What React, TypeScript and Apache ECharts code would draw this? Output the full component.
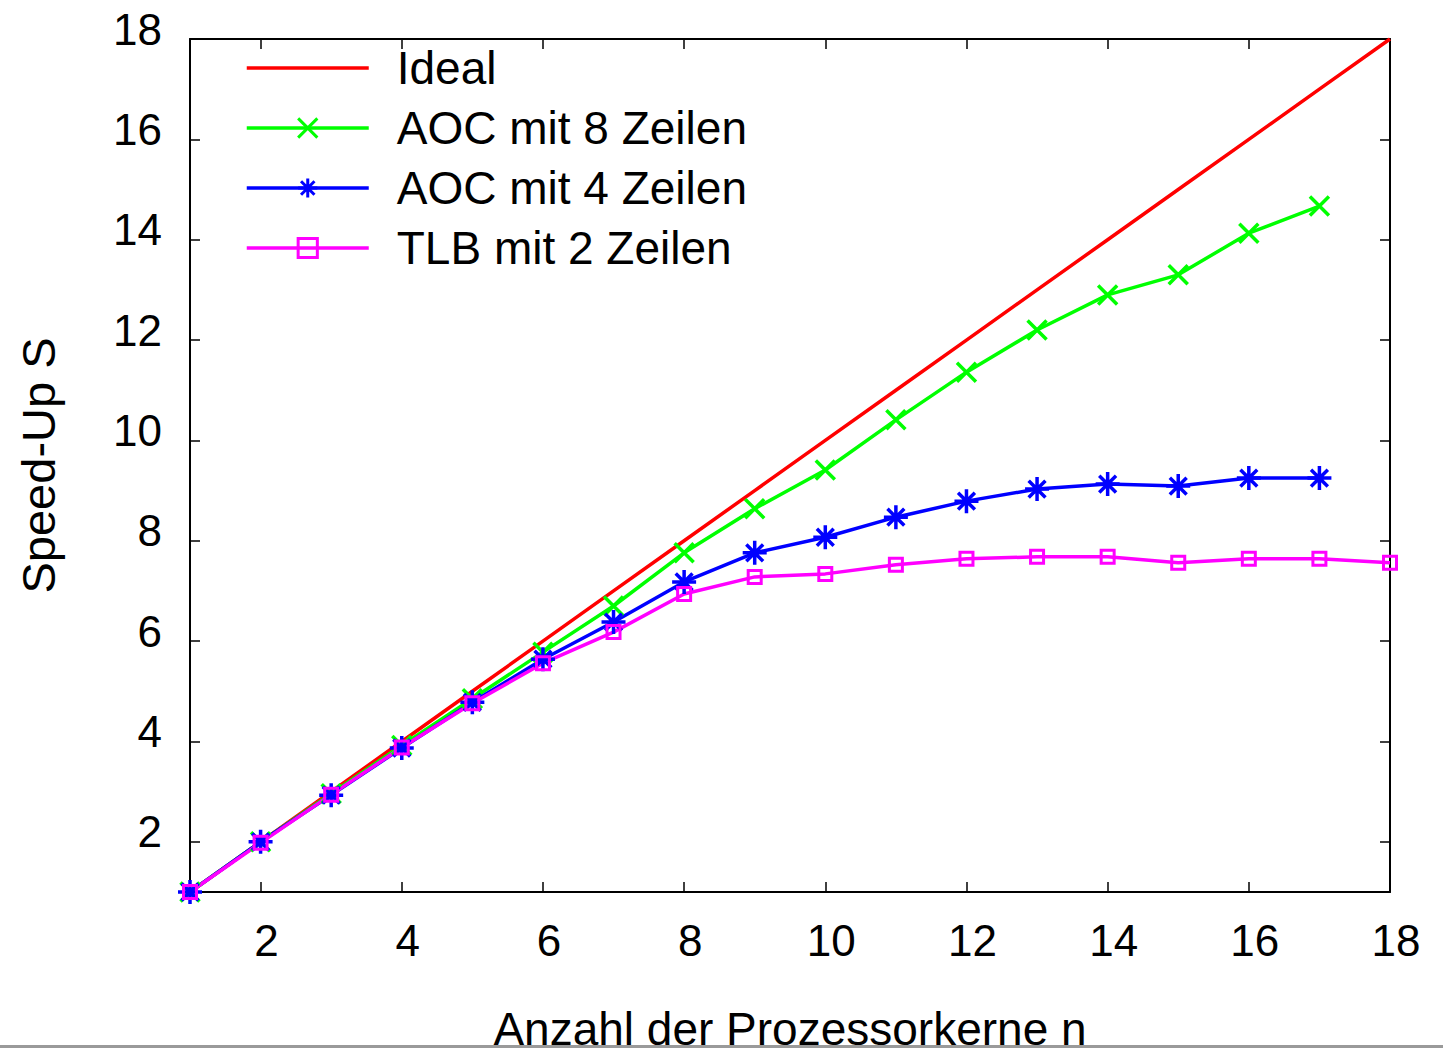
import React, { useEffect, useRef } from "react";
import * as echarts from "echarts";

const cores = [1, 2, 3, 4, 5, 6, 7, 8, 9, 10, 11, 12, 13, 14, 15, 16, 17, 18];
const ideal = [1, 2, 3, 4, 5, 6, 7, 8, 9, 10, 11, 12, 13, 14, 15, 16, 17, 18];
const aoc8 = [1, 2, 2.96, 3.92, 4.85, 5.78, 6.7, 7.76, 8.64, 9.41, 10.41, 11.36, 12.2, 12.9, 13.3, 14.13, 14.67];
const aoc4 = [1, 2, 2.93, 3.87, 4.78, 5.64, 6.38, 7.18, 7.76, 8.07, 8.47, 8.79, 9.03, 9.13, 9.09, 9.25, 9.25];
const tlb2 = [1, 1.98, 2.94, 3.88, 4.76, 5.56, 6.18, 6.94, 7.28, 7.34, 7.52, 7.64, 7.68, 7.68, 7.56, 7.64, 7.64, 7.56];
const xTickLabels = [2, 4, 6, 8, 10, 12, 14, 16, 18];
const yTickLabels = [2, 4, 6, 8, 10, 12, 14, 16, 18];
const xTicks = [2, 4, 6, 8, 10, 12, 14, 16];
const yTicks = [2, 4, 6, 8, 10, 12, 14, 16];
const seriesNames = ["Ideal", "AOC mit 8 Zeilen", "AOC mit 4 Zeilen", "TLB mit 2 Zeilen"];
const seriesColors = ["#ff0000", "#00ff00", "#0000ff", "#ff00ff"];

const pairs = (vals: number[]) => vals.map((v, i) => [cores[i], v]);

const FONT = "'Liberation Sans', Arial, Helvetica, sans-serif";
const LW = 3.5;

export default function App() {
  const ref = useRef<HTMLDivElement>(null);
  useEffect(() => {
    if (!ref.current) return;
    const chart = echarts.init(ref.current, null, { renderer: "svg" });
    const axisLine = { show: true, onZero: false, lineStyle: { color: "#000", width: 2 } };
    const tickStyle = { color: "#000", width: 1.5 };
    chart.setOption({
      animation: false,
      backgroundColor: "#fff",
      textStyle: { fontFamily: FONT },
      grid: { left: 190, top: 39, right: 53, bottom: 156, containLabel: false, outerBoundsMode: "none" },
      legend: {
        orient: "vertical",
        left: 240,
        top: 40,
        itemWidth: 122,
        itemHeight: 24,
        itemGap: 14,
        data: seriesNames.map((n, i) => ({
          name: n,
          lineStyle: { color: seriesColors[i], width: LW },
          itemStyle: i === 0 ? { opacity: 0 } : { color: "transparent", borderColor: seriesColors[i], borderWidth: 3 },
        })),
        textStyle: { fontSize: 46, color: "#000", fontFamily: FONT, padding: [0, 0, 0, 23] },
      },
      xAxis: [
        {
          type: "value",
          min: 1,
          max: 18,
          position: "bottom",
          axisLine,
          splitLine: { show: false },
          axisTick: { show: true, inside: true, length: 10, lineStyle: tickStyle, customValues: xTicks },
          axisLabel: {
            show: true,
            customValues: xTickLabels,
            fontSize: 44,
            color: "#000",
            fontFamily: FONT,
            margin: 26,
            padding: [0, 0, 0, 12],
          },
          name: "Anzahl der Prozessorkerne n",
          nameLocation: "middle",
          nameGap: 114,
          nameTextStyle: { fontSize: 46, color: "#000", fontFamily: FONT },
        },
        {
          type: "value",
          min: 1,
          max: 18,
          position: "top",
          axisLine,
          splitLine: { show: false },
          axisTick: { show: true, inside: true, length: 10, lineStyle: tickStyle, customValues: xTicks },
          axisLabel: { show: false },
        },
      ],
      yAxis: [
        {
          type: "value",
          min: 1,
          max: 18,
          position: "left",
          axisLine,
          splitLine: { show: false },
          axisTick: { show: true, inside: true, length: 10, lineStyle: tickStyle, customValues: yTicks },
          axisLabel: {
            show: true,
            customValues: yTickLabels,
            fontSize: 44,
            color: "#000",
            fontFamily: FONT,
            margin: 28,
            verticalAlign: "bottom",
            lineHeight: 20,
          },
          name: "Speed-Up S",
          nameLocation: "middle",
          nameGap: 128,
          nameTextStyle: { fontSize: 47, color: "#000", fontFamily: FONT },
        },
        {
          type: "value",
          min: 1,
          max: 18,
          position: "right",
          axisLine,
          splitLine: { show: false },
          axisTick: { show: true, inside: true, length: 10, lineStyle: tickStyle, customValues: yTicks },
          axisLabel: { show: false },
        },
      ],
      series: [
        {
          name: seriesNames[0],
          type: "line",
          data: pairs(ideal),
          symbol: "none",
          lineStyle: { color: seriesColors[0], width: LW },
          itemStyle: { color: seriesColors[0] },
        },
        {
          name: seriesNames[1],
          type: "line",
          data: pairs(aoc8),
          symbol: "path://M0,0L10,10M10,0L0,10",
          symbolSize: 19,
          lineStyle: { color: seriesColors[1], width: LW },
          itemStyle: { color: "transparent", borderColor: seriesColors[1], borderWidth: 3.5 },
        },
        {
          name: seriesNames[2],
          type: "line",
          data: pairs(aoc4),
          symbol: "path://M5,0L5,10M0,5L10,5M1.5,1.5L8.5,8.5M8.5,1.5L1.5,8.5",
          symbolSize: 24,
          lineStyle: { color: seriesColors[2], width: LW },
          itemStyle: { color: "transparent", borderColor: seriesColors[2], borderWidth: 3.5 },
        },
        {
          name: seriesNames[3],
          type: "line",
          data: pairs(tlb2),
          symbol: "path://M0,0L10,0L10,10L0,10Z",
          symbolSize: 13,
          lineStyle: { color: seriesColors[3], width: LW },
          itemStyle: { color: "transparent", borderColor: seriesColors[3], borderWidth: 3 },
        },
      ],
      graphic: [
        {
          type: "rect",
          left: 0,
          top: 1045,
          shape: { width: 1443, height: 3 },
          style: { fill: "#9a9a9a" },
          z: 100,
        },
      ],
    });
    return () => chart.dispose();
  }, []);
  return (
    <div
      ref={ref}
      style={{ position: "absolute", left: 0, top: 0, width: 1443, height: 1048, background: "#fff" }}
    />
  );
}
